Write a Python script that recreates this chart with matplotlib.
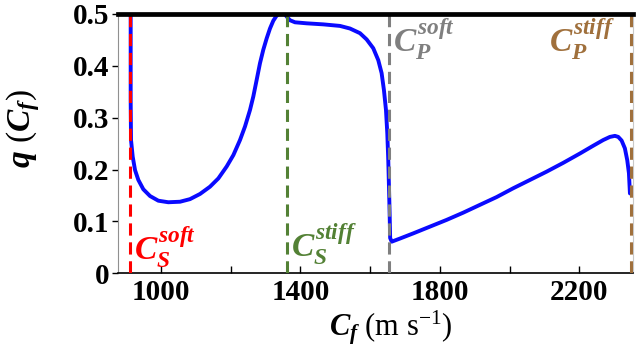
import matplotlib
matplotlib.use('Agg')
import matplotlib.pyplot as plt

plt.rcParams['font.family'] = ['Liberation Serif', 'DejaVu Serif']
plt.rcParams['mathtext.fontset'] = 'custom'
plt.rcParams['mathtext.rm'] = 'Liberation Serif'
plt.rcParams['mathtext.it'] = 'Liberation Serif:italic:bold'
plt.rcParams['mathtext.bf'] = 'Liberation Serif:bold'

# q(C_f)
cf = [913, 913, 914, 918.8, 925.5, 935, 949.3, 968.5, 992.3, 1021, 1054.6,
      1083.2, 1112, 1140.6, 1164.6, 1188.5, 1207.7, 1226.7, 1241, 1255.4,
      1264.9, 1274.5, 1284, 1293.5, 1303.2, 1312.7, 1322.2, 1331.9, 1341.4,
      1349, 1355.7, 1360.6, 1370, 1384.4, 1418, 1465.6, 1513.5, 1542.2,
      1570.9, 1590, 1609, 1623.4, 1633, 1639.7, 1645.5, 1649.3, 1652.1,
      1654.1, 1656, 1657.5, 1662, 1685.6, 1723.8, 1771.7, 1819.6, 1867.4,
      1915.1, 1963, 2010.7, 2058.6, 2106.4, 2154.2, 2202, 2240.2, 2268.9,
      2288, 2302.4, 2312, 2321.6, 2331, 2337.8, 2342.6, 2345.5]
q = [0.498, 0.334, 0.257, 0.225, 0.199, 0.180, 0.162, 0.149, 0.140, 0.137,
     0.138, 0.143, 0.153, 0.167, 0.183, 0.206, 0.228, 0.257, 0.283, 0.315,
     0.341, 0.373, 0.405, 0.431, 0.453, 0.472, 0.487, 0.497, 0.501,
     0.502, 0.500, 0.495, 0.488, 0.484, 0.482, 0.480, 0.477, 0.472,
     0.463, 0.451, 0.434, 0.411, 0.386, 0.353, 0.315, 0.270, 0.218,
     0.167, 0.116, 0.068, 0.061, 0.067, 0.077, 0.090, 0.103, 0.117,
     0.132, 0.147, 0.164, 0.180, 0.196, 0.213, 0.231, 0.246, 0.257,
     0.263, 0.265, 0.263, 0.256, 0.241, 0.218, 0.193, 0.154]

# wave speeds (vertical markers)
speed_names = [r'$C_S^{soft}$', r'$C_S^{stiff}$', r'$C_P^{soft}$', r'$C_P^{stiff}$']
speed_values = [910, 1361, 1655, 2348]
speed_colors = ['#ff0000', '#538135', '#7f7f7f', '#a0703c']
label_x = [923, 1373, 1666, 2112]
label_y = [0.026, 0.032, 0.427, 0.427]

x_major = [1000, 1400, 1800, 2200]
x_minor = [1200, 1600, 2000]
y_ticks = [0, 0.1, 0.2, 0.3, 0.4, 0.5]
y_ticklabels = ['0', '0.1', '0.2', '0.3', '0.4', '0.5']

fig = plt.figure(figsize=(6.39, 3.56), dpi=100)
ax = fig.add_axes([0.1847, 0.2323, 0.991 - 0.1847, 0.9607 - 0.2323])

ax.plot(cf, q, color='#0a0aff', lw=2.8, zorder=3, solid_capstyle='round',
        solid_joinstyle='round')

for v, c in zip(speed_values, speed_colors):
    ax.axvline(v, color=c, lw=2.2, ls=(0, (4, 2.2)), zorder=3.5)

ax.axhline(0.5, color='black', lw=3.4, zorder=4, clip_on=False)

for name, x, y, c in zip(speed_names, label_x, label_y, speed_colors):
    ax.text(x, y, name, color=c, fontsize=24, ha='left', va='baseline', zorder=5)

ax.set_xlim(876.7, 2355)
ax.set_ylim(0, 0.5)

ax.set_xticks(x_major)
ax.set_xticks(x_minor, minor=True)
ax.set_xticklabels([str(v) for v in x_major], fontsize=21, fontweight='bold')
ax.set_yticks(y_ticks)
ax.set_yticklabels(y_ticklabels, fontsize=21, fontweight='bold')

ax.tick_params(axis='x', which='both', direction='in', length=5, width=1, pad=4)
ax.tick_params(axis='y', direction='out', length=4, width=1, pad=2)

ax.spines['top'].set_visible(False)
ax.spines['left'].set_color('#909090')
ax.spines['right'].set_color('#c8c8c8')
ax.spines['bottom'].set_color('black')
ax.spines['bottom'].set_linewidth(1.2)

ax.set_xlabel(r'$C_f$ (m s$^{\mathrm{-1}}$)', fontsize=22)
ax.xaxis.set_label_coords(0.53, -0.135)
ax.set_ylabel(r'$q\ (C_f)$', fontsize=24)
ax.yaxis.set_label_coords(-0.147, 0.56)

fig.savefig('out.png', dpi=100)
